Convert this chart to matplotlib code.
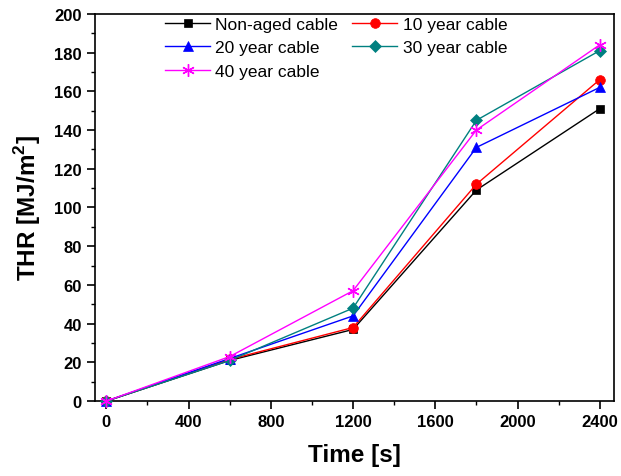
import matplotlib
matplotlib.use("Agg")
import matplotlib.pyplot as plt
from matplotlib.ticker import MultipleLocator

plt.rcParams['font.family'] = ['Liberation Sans', 'DejaVu Sans']
plt.rcParams['mathtext.fontset'] = 'custom'
plt.rcParams['mathtext.rm'] = 'Liberation Sans:bold'
plt.rcParams['mathtext.bf'] = 'Liberation Sans:bold'

time_s = [0, 600, 1200, 1800, 2400]
non_aged = [0, 21, 37, 109, 151]
year10 = [0, 21.5, 38, 112, 166]
year20 = [0, 22, 44, 131, 162]
year30 = [0, 21, 48, 145, 181]
year40 = [0, 23, 57, 140, 184]
labels = ["Non-aged cable", "10 year cable", "20 year cable", "30 year cable", "40 year cable"]

fig = plt.figure(figsize=(6.21, 4.77), dpi=100)
ax = fig.add_axes([0.153, 0.157, 0.836, 0.812])

series = [non_aged, year10, year20, year30, year40]
colors = ['black', '#ff0000', '#0000ff', '#008080', '#ff00ff']
markers = ['s', 'o', '^', 'D', (6, 2, 0)]
msizes = [6, 7, 7, 6, 9]
handles = []
for s, c, m, ms, lab in zip(series, colors, markers, msizes, labels):
    h, = ax.plot(time_s, s, color=c, marker=m, markersize=ms, lw=1.0, label=lab,
                 markeredgewidth=1.0 if m == (6, 2, 0) else 0.5, clip_on=False, zorder=3)
    handles.append(h)

ax.set_xlim(-55, 2470)
ax.set_ylim(0, 200)
ax.xaxis.set_major_locator(MultipleLocator(400))
ax.xaxis.set_minor_locator(MultipleLocator(200))
ax.yaxis.set_major_locator(MultipleLocator(20))
ax.yaxis.set_minor_locator(MultipleLocator(10))
ax.tick_params(which='major', direction='out', length=6, width=1.2, labelsize=12)
ax.tick_params(which='minor', direction='out', length=3, width=1.0)
for lbl in ax.get_xticklabels() + ax.get_yticklabels():
    lbl.set_fontweight('bold')
for sp in ax.spines.values():
    sp.set_linewidth(1.2)

ax.set_xlabel("Time [s]", fontsize=17.5, fontweight='bold', labelpad=10)
ax.set_ylabel(r"THR [MJ/m$^2$]", fontsize=17.5, fontweight='bold', labelpad=8)

# row-wise ordering for 2-column legend
order = [0, 2, 4, 1, 3]
leg = ax.legend(handles=[handles[i] for i in order], ncol=2, frameon=False, loc='upper left',
                bbox_to_anchor=(0.115, 1.02), fontsize=12.5, handlelength=2.6,
                handletextpad=0.3, columnspacing=0.8, labelspacing=0.5,
                borderaxespad=0.2)

fig.savefig("out.png", dpi=100)
